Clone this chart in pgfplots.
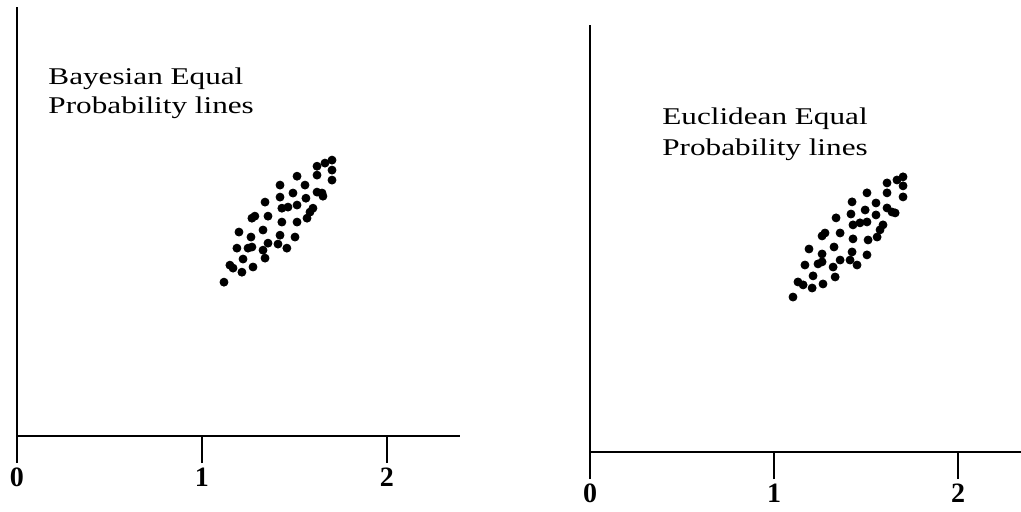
\documentclass[border=0pt]{standalone}
\usepackage{pgfplots}
\pgfplotsset{compat=1.18}
\usepackage{fontspec}
\setmainfont{Liberation Serif}
\newfontfamily\lab[FakeStretch=1.3]{Liberation Serif}
\begin{document}
\begin{tikzpicture}
\useasboundingbox (0,0) rectangle (510.5pt,255.5pt);
\pgfplotsset{
  every axis/.append style={
    scale only axis, clip=false,
    axis x line*=bottom, axis y line*=left,
    axis line style={-, line width=1pt, black},
    xmin=0, ymin=0,
    xtick={0,1,2}, ytick=\empty,
    xticklabels={\textbf{0},\textbf{1},\textbf{2}},
    tick align=outside, major tick length=13.5pt,
    tick style={line width=0.8pt, black},
    xticklabel style={font=\fontsize{14}{16}\selectfont\bfseries, anchor=center, yshift=-7pt},
  },
  dots/.style={only marks, mark=*, mark size=2pt, black},
}
\begin{axis}[at={(8.5pt,37.5pt)}, anchor=south west,
  width=221.5pt, height=214.5pt, xmax=2.395, ymax=2.32]
\addplot[dots] coordinates {
(1.119,0.832) (1.151,0.924) (1.168,0.908) (1.216,0.886) (1.276,0.914)
(1.222,0.957) (1.189,1.016) (1.249,1.016) (1.270,1.022) (1.341,0.962)
(1.330,1.005) (1.357,1.043) (1.411,1.038) (1.459,1.016) (1.422,1.086)
(1.503,1.076) (1.200,1.103) (1.265,1.076) (1.330,1.114) (1.270,1.178)
(1.286,1.189) (1.357,1.189) (1.432,1.157) (1.514,1.157) (1.568,1.178)
(1.584,1.211) (1.600,1.232) (1.341,1.265) (1.432,1.232) (1.465,1.238)
(1.514,1.249) (1.422,1.292) (1.492,1.314) (1.562,1.286) (1.622,1.319)
(1.649,1.314) (1.654,1.297) (1.422,1.357) (1.557,1.357) (1.514,1.405)
(1.622,1.411) (1.703,1.384) (1.622,1.459) (1.665,1.476) (1.703,1.492)
(1.703,1.438)
};
\node[anchor=west, inner sep=0pt, font=\lab\fontsize{12}{14}\selectfont] at (axis cs:0.168,1.93) {Bayesian Equal};
\node[anchor=west, inner sep=0pt, font=\lab\fontsize{12}{14}\selectfont] at (axis cs:0.168,1.775) {Probability lines};
\end{axis}
\begin{axis}[at={(295pt,29.5pt)}, anchor=south west,
  width=215.5pt, height=213.5pt, xmax=2.342, ymax=2.32]
\addplot[dots] coordinates {
(1.103,0.842) (1.130,0.924) (1.158,0.908) (1.207,0.891) (1.266,0.913)
(1.212,0.957) (1.168,1.016) (1.239,1.022) (1.261,1.033) (1.332,0.951)
(1.321,1.005) (1.359,1.043) (1.413,1.043) (1.451,1.016) (1.424,1.087)
(1.505,1.071) (1.190,1.103) (1.261,1.076) (1.326,1.114) (1.261,1.174)
(1.277,1.190) (1.359,1.190) (1.429,1.158) (1.511,1.152) (1.560,1.168)
(1.576,1.207) (1.592,1.234) (1.337,1.272) (1.429,1.234) (1.467,1.245)
(1.505,1.250) (1.418,1.293) (1.495,1.315) (1.554,1.288) (1.614,1.326)
(1.641,1.304) (1.658,1.299) (1.424,1.359) (1.554,1.353) (1.505,1.408)
(1.614,1.408) (1.701,1.386) (1.614,1.462) (1.668,1.478) (1.701,1.495)
(1.701,1.446)
};
\node[anchor=west, inner sep=0pt, font=\lab\fontsize{12}{14}\selectfont] at (axis cs:0.391,1.81) {Euclidean Equal};
\node[anchor=west, inner sep=0pt, font=\lab\fontsize{12}{14}\selectfont] at (axis cs:0.391,1.64) {Probability lines};
\end{axis}
\end{tikzpicture}
\end{document}
